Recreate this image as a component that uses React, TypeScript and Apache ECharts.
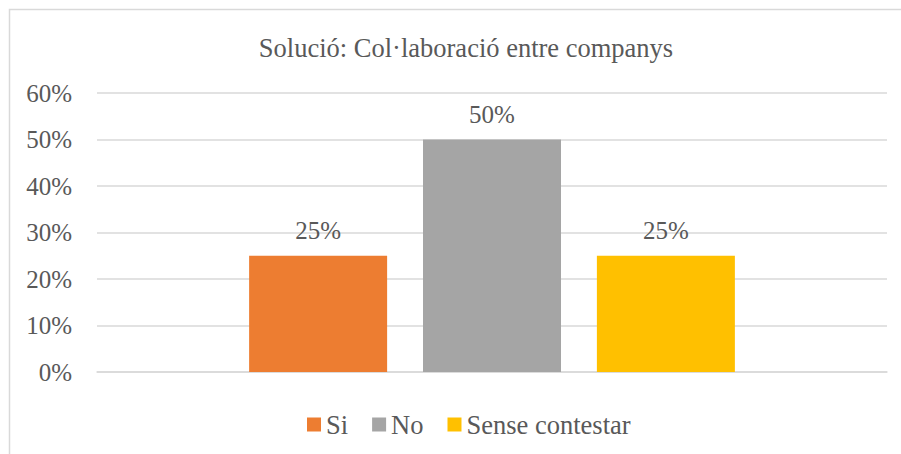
import React, { useEffect, useRef } from "react";
import * as echarts from "echarts";

const categories = ["Si", "No", "Sense contestar"];
const values = [25, 50, 25];
const colors = ["#ED7D31", "#A5A5A5", "#FFC000"];
const yTicks = [0, 10, 20, 30, 40, 50, 60];

const FONT = "Liberation Serif";
const TEXT = "#595959";

export default function App() {
  const ref = useRef<HTMLDivElement>(null);
  useEffect(() => {
    if (!ref.current) return;
    const chart = echarts.init(ref.current, undefined, { renderer: "svg" });
    chart.setOption({
      animation: false,
      backgroundColor: "#fff",
      textStyle: { fontFamily: FONT },
      title: {
        text: "Solució: Col·laboració entre companys",
        left: 461,
        top: 29,
        textAlign: "center",
        textStyle: { fontFamily: FONT, fontSize: 26.5, fontWeight: "normal", color: TEXT },
      },
      graphic: [
        {
          type: "rect",
          shape: { x: 9.5, y: 9.5, width: 1000, height: 1000 },
          style: { fill: "none", stroke: "#d9d9d9", lineWidth: 1.5 },
          silent: true,
        },
      ],
      legend: {
        left: 302,
        top: 406,
        itemWidth: 14,
        itemHeight: 14,
        itemGap: 24,
        icon: "rect",
        textStyle: { fontFamily: FONT, fontSize: 26.5, color: TEXT },
        data: categories,
      },
      grid: { left: 97, right: 14, top: 93, bottom: 82, containLabel: false },
      xAxis: {
        type: "category",
        data: [""],
        axisLine: { show: true, lineStyle: { color: "#d9d9d9", width: 1.5 } },
        axisTick: { show: false },
        axisLabel: { show: false },
      },
      yAxis: {
        type: "value",
        min: yTicks[0],
        max: yTicks[yTicks.length - 1],
        interval: 10,
        axisLine: { show: false },
        axisTick: { show: false },
        axisLabel: {
          formatter: (v: number) => `${v}%`,
          fontFamily: FONT,
          fontSize: 25,
          color: TEXT,
          margin: 25,
        },
        splitLine: { lineStyle: { color: "#d9d9d9", width: 1.5 } },
      },
      series: categories.map((name, i) => ({
        name,
        type: "bar",
        data: [values[i]],
        barWidth: 138,
        barGap: "26%",
        itemStyle: { color: colors[i] },
        label: {
          show: true,
          position: "top",
          distance: 13,
          formatter: (p: any) => `${p.value}%`,
          fontFamily: FONT,
          fontSize: 25,
          color: TEXT,
        },
      })),
    });
    return () => chart.dispose();
  }, []);
  return (
    <div
      ref={ref}
      style={{ position: "fixed", left: 0, top: 0, width: 901, height: 454 }}
    />
  );
}
